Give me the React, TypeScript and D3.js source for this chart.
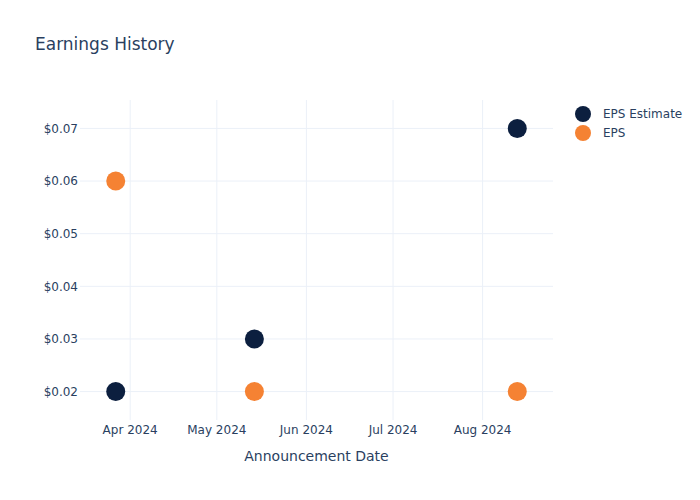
import React from "react";
import * as d3 from "d3";

const dates = ["2024-03-27", "2024-05-14", "2024-08-13"];
const epsEstimate = [0.02, 0.03, 0.07];
const epsActual = [0.06, 0.02, 0.02];
const yTicks = [0.02, 0.03, 0.04, 0.05, 0.06, 0.07];
const xTicks = ["2024-04-01", "2024-05-01", "2024-06-01", "2024-07-01", "2024-08-01"];
const seriesNames = ["EPS Estimate", "EPS"];
const seriesColors = ["#0c1f3f", "#f58233"];

const W = 700, H = 500;
const M = { left: 80, right: 147, top: 100, bottom: 80 };
const FONT = '"DejaVu Sans", sans-serif';
const TXT = "#2a3f5f";
const GRID = "#ebf0f8";

export default function App() {
  const parse = d3.timeParse("%Y-%m-%d");
  const dts = dates.map((d) => parse(d) as Date);
  const [dmin, dmax] = d3.extent(dts) as [Date, Date];
  const span = dmax.getTime() - dmin.getTime();
  const padX = span * 0.089;
  const x = d3
    .scaleTime()
    .domain([new Date(dmin.getTime() - padX), new Date(dmax.getTime() + padX)])
    .range([M.left, W - M.right]);
  const allY = [...epsEstimate, ...epsActual];
  const [ymin, ymax] = d3.extent(allY) as [number, number];
  const padY = (ymax - ymin) * 0.108;
  const y = d3
    .scaleLinear()
    .domain([ymin - padY, ymax + padY])
    .range([H - M.bottom, M.top]);
  const fmtX = d3.timeFormat("%b %Y");
  const series = [epsEstimate, epsActual];

  return (
    <svg
      width={W}
      height={H}
      style={{ display: "block", position: "absolute", left: 0, top: 0, fontFamily: FONT, background: "#fff" }}
    >
      <g>
        {xTicks.map((t) => {
          const xv = x(parse(t) as Date);
          return (
            <line key={"gx" + t} x1={xv} x2={xv} y1={M.top} y2={H - M.bottom} stroke={GRID} strokeWidth={1} />
          );
        })}
        {yTicks.map((t) => (
          <line key={"gy" + t} x1={M.left} x2={W - M.right} y1={y(t)} y2={y(t)} stroke={GRID} strokeWidth={1} />
        ))}
      </g>
      <g>
        {yTicks.map((t) => (
          <text key={"ty" + t} x={M.left - 2} y={y(t)} dy="0.35em" textAnchor="end" fontSize={12} fill={TXT}>
            {"$" + t.toFixed(2)}
          </text>
        ))}
        {xTicks.map((t) => (
          <text key={"tx" + t} x={x(parse(t) as Date)} y={H - M.bottom + 5} dy="0.71em" textAnchor="middle" fontSize={12} fill={TXT}>
            {fmtX(parse(t) as Date)}
          </text>
        ))}
      </g>
      {series.map((vals, si) => (
        <g key={"s" + si}>
          {vals.map((v, i) => (
            <circle key={i} cx={x(dts[i])} cy={y(v)} r={9.5} fill={seriesColors[si]} />
          ))}
        </g>
      ))}
      <text x={35} y={50} fontSize={17} fill={TXT}>
        Earnings History
      </text>
      <text x={(M.left + W - M.right) / 2} y={461} textAnchor="middle" fontSize={14} fill={TXT}>
        Announcement Date
      </text>
      <g>
        {seriesNames.map((n, i) => (
          <g key={n} transform={`translate(583, ${114 + i * 19})`}>
            <circle cx={0} cy={0} r={8} fill={seriesColors[i]} />
            <text x={20} y={0} dy="0.35em" fontSize={12} fill={TXT}>
              {n}
            </text>
          </g>
        ))}
      </g>
    </svg>
  );
}
